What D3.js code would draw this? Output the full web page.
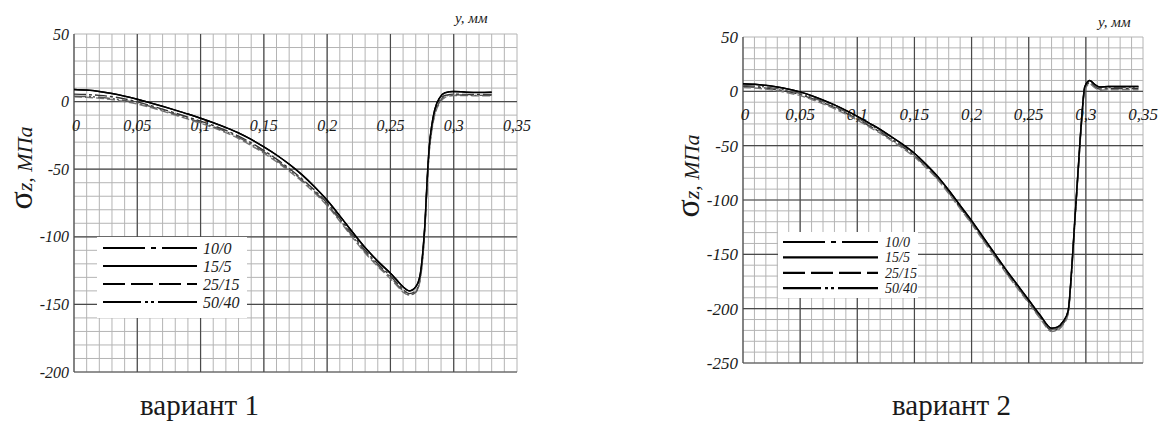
<!DOCTYPE html>
<html>
<head>
<meta charset="utf-8">
<script src="https://cdn.jsdelivr.net/npm/d3@7"></script>
<style>
  body { margin: 0; background: #fff; }
  svg { display: block; }
</style>
</head>
<body>
<svg id="chart" width="1158" height="422"></svg>
<script>
// series names (legend)
var seriesNames = ["10/0", "15/5", "25/15", "50/40"];

// вариант 1 : y, мм
var x1 = [0, 0.01, 0.02, 0.03, 0.04, 0.05, 0.06, 0.07, 0.08, 0.09, 0.1, 0.11, 0.12, 0.13, 0.14, 0.15,
  0.16, 0.17, 0.18, 0.19, 0.2, 0.21, 0.22, 0.23, 0.24, 0.25, 0.255, 0.26, 0.265, 0.27, 0.2735,
  0.2757, 0.2773, 0.279, 0.2807, 0.2826, 0.285, 0.289, 0.293, 0.3, 0.31, 0.32, 0.33];
var v1_10_0 = [5.5, 5.2, 4.6, 3.6, 2, -0.2, -2.8, -5.6, -8.5, -11.5, -14.5, -17.7, -21.3, -25.5, -30.5, -36.2,
  -42.5, -49.5, -57, -65.5, -75, -86.5, -98.5, -110, -120, -129, -134, -139, -142, -140, -130,
  -112, -91, -60, -35, -20, -8, 1, 4.5, 5.5, 5.3, 5.2, 5.3];
var v1_15_5 = [9, 8.5, 7.5, 6, 4, 1.7, -0.8, -3.5, -6.3, -9.2, -12.3, -15.6, -19.2, -23.2, -28, -33.5,
  -39.5, -46.3, -54, -63, -73, -84.5, -96.5, -108, -118, -127, -132, -137, -140, -137, -128,
  -110, -90, -58, -33, -18, -6, 3, 6.5, 7.5, 7, 6.8, 7];
var v1_25_15 = [3.5, 3.2, 2.5, 1.5, 0, -1.8, -4.2, -7, -10, -13, -16, -19.3, -23, -27.3, -32.5, -38.2,
  -44.5, -51.5, -59, -67.5, -77, -88.5, -100.5, -112, -122, -131, -136, -141, -143, -141, -132,
  -114, -93, -62, -37, -22, -10, -1, 3, 4.5, 4.5, 4.2, 4.3];
var v1_50_40 = [4, 3.8, 3.2, 2.2, 0.8, -1, -3.5, -6.3, -9.3, -12.3, -15.3, -18.6, -22.2, -26.4, -31.5, -37.2,
  -43.5, -50.5, -58, -66.5, -76, -87.5, -99.5, -111, -121, -130, -135, -140, -143, -141, -131,
  -113, -92, -61, -36, -21, -9, 0, 4, 5, 4.8, 4.6, 4.7];

// вариант 2 : y, мм
var x2 = [0, 0.01, 0.02, 0.03, 0.04, 0.05, 0.06, 0.07, 0.08, 0.09, 0.1, 0.11, 0.12, 0.13, 0.14, 0.15,
  0.16, 0.17, 0.18, 0.19, 0.2, 0.21, 0.22, 0.23, 0.24, 0.25, 0.26, 0.27, 0.275, 0.28, 0.2845,
  0.2875, 0.2903, 0.2932, 0.2962, 0.299, 0.3034, 0.307, 0.312, 0.32, 0.33, 0.34, 0.346];
var v2_10_0 = [4.5, 4, 3, 1.5, -0.5, -3, -6.5, -10.5, -15, -20, -25.5, -31.5, -37.5, -44.5, -51.5, -59.5,
  -69, -80, -93, -107, -121, -136, -151, -166, -180, -194, -208, -220, -219, -214, -204,
  -167, -121, -75, -29, 2, 8, 5, 2, 2.5, 2.5, 2.5, 2.5];
var v2_15_5 = [7, 6.5, 5.5, 4, 2, -0.5, -4, -8, -12.5, -17.5, -23, -29, -35, -42, -49, -57,
  -67, -78, -91, -105, -119, -134, -149, -164, -178, -192, -206, -218, -217, -212, -202,
  -165, -119, -73, -27, 4, 10, 7, 4, 4.5, 4.5, 4.5, 4.5];
var v2_25_15 = [3.5, 3, 2, 0.5, -1.5, -4, -7.5, -11.5, -16, -21, -26.5, -32.5, -38.5, -45.5, -52.5, -60.5,
  -70, -81, -94, -108, -122, -137, -152, -167, -181, -195, -209, -221, -220, -215, -205,
  -168, -122, -76, -30, 1, 7, 4, 1, 1.5, 1.5, 1.5, 1.5];
var v2_50_40 = [5.5, 5, 4, 2.5, 0.5, -2, -5.5, -9.5, -14, -19, -24.5, -30.5, -36.5, -43.5, -50.5, -58.5,
  -68, -79, -92, -106, -120, -135, -150, -165, -179, -193, -207, -219, -218, -213, -203,
  -166, -120, -74, -28, 3, 9, 6, 3, 3.5, 3.5, 3.5, 3.5];

var FONT = "Liberation Serif";
var svg = d3.select("#chart");

var locale = d3.formatLocale({decimal: ",", thousands: " ", grouping: [3], currency: ["", ""], minus: "-"});
var fmtX = locale.format(".2~f");
var fmtY = locale.format("d");

// line look per series (curve dash, legend dash, colour)
var looks = [
  {dash: "12,3,3,3", legDash: "42,6,5,6,40", color: "#333"},
  {dash: null, legDash: null, color: "#000"},
  {dash: "8,3", legDash: "22,6", color: "#777"},
  {dash: "12,3,2,2,2,3", legDash: "38,4,3,3,3,4,40", color: "#555"}
];

function txt(sel) {
  return sel.append("text").style("font-family", FONT).attr("fill", "#1a1a1a");
}

function drawPanel(p) {
  var x = d3.scaleLinear().domain([0, 0.35]).range([p.left, p.right]);
  var y = d3.scaleLinear().domain(p.yDomain).range([p.bottom, p.top]);
  var g = svg.append("g");

  // minor grid
  g.append("g").selectAll("line").data(x.ticks(35)).enter().append("line")
    .attr("x1", d => x(d)).attr("x2", d => x(d)).attr("y1", p.top).attr("y2", p.bottom)
    .attr("stroke", "#b4b4b4").attr("stroke-width", 1);
  g.append("g").selectAll("line").data(y.ticks(p.minorY)).enter().append("line")
    .attr("y1", d => y(d)).attr("y2", d => y(d)).attr("x1", p.left).attr("x2", p.right)
    .attr("stroke", "#b4b4b4").attr("stroke-width", 1);

  // major grid
  g.append("g").selectAll("line").data(x.ticks(7).filter(d => d < 0.349)).enter().append("line")
    .attr("x1", d => x(d)).attr("x2", d => x(d)).attr("y1", p.top).attr("y2", p.bottom)
    .attr("stroke", "#4a4a4a").attr("stroke-width", 1.2);
  g.append("g").selectAll("line").data(y.ticks(p.majorY).filter(d => d < p.yDomain[1])).enter().append("line")
    .attr("y1", d => y(d)).attr("y2", d => y(d)).attr("x1", p.left).attr("x2", p.right)
    .attr("stroke", "#4a4a4a").attr("stroke-width", 1.2);

  // y tick labels
  y.ticks(p.majorY).forEach(function (d) {
    txt(g).attr("x", p.left - 5).attr("y", y(d)).attr("dy", "0.35em")
      .attr("text-anchor", "end").style("font-style", "italic").style("font-size", p.tickFs)
      .text(fmtY(d));
  });

  // x tick labels, under the zero line
  x.ticks(7).forEach(function (d) {
    txt(g).attr("x", x(d) + (d === 0 ? 2 : 0)).attr("y", y(0) + 29)
      .attr("text-anchor", "middle").style("font-style", "italic").style("font-size", p.tickFs)
      .text(fmtX(d));
  });

  txt(g).attr("x", p.xTitleX).attr("y", p.xTitleY)
    .style("font-style", "italic").style("font-size", "15px").text("y, мм");

  // y title
  var t = txt(g)
    .attr("transform", "translate(" + p.yTitleX + "," + p.yTitleY + ") rotate(-90)")
    .attr("text-anchor", "middle");
  t.append("tspan").style("font-size", "34px").text("σ");
  t.append("tspan").style("font-size", "22px").style("font-style", "italic").text("z, МПа");

  // curves
  var line = d3.line().x(d => x(d[0])).y(d => y(d[1])).curve(d3.curveMonotoneX);
  p.series.forEach(function (vals, i) {
    var pts = p.xs.map((xv, j) => [xv, vals[j]]);
    g.append("path").datum(pts).attr("d", line)
      .attr("fill", "none").attr("stroke", looks[i].color).attr("stroke-width", 1.4)
      .attr("stroke-dasharray", looks[i].dash);
  });
  // solid on top
  g.append("path").datum(p.xs.map((xv, j) => [xv, p.series[1][j]])).attr("d", line)
    .attr("fill", "none").attr("stroke", "#000").attr("stroke-width", 1.5);

  // legend
  var lg = g.append("g");
  lg.append("rect").attr("x", p.leg.x).attr("y", p.leg.y).attr("width", p.leg.w).attr("height", p.leg.h)
    .attr("fill", "#fff");
  seriesNames.forEach(function (name, i) {
    var ly = p.leg.y0 + i * p.leg.dy;
    lg.append("line").attr("x1", p.leg.lx1).attr("x2", p.leg.lx2).attr("y1", ly).attr("y2", ly)
      .attr("stroke", "#000").attr("stroke-width", 2.2).attr("stroke-dasharray", looks[i].legDash);
    txt(lg).attr("x", p.leg.tx).attr("y", ly).attr("dy", "0.35em")
      .style("font-style", "italic").style("font-size", p.leg.fs).text(name);
  });

  txt(svg).attr("x", p.capX).attr("y", 415).style("font-size", "29px").text(p.caption);
}

drawPanel({
  left: 74, right: 517, top: 34, bottom: 372, yDomain: [-200, 50], minorY: 25, majorY: 5, tickFs: "16px",
  xs: x1, series: [v1_10_0, v1_15_5, v1_25_15, v1_50_40],
  xTitleX: 455, xTitleY: 23, yTitleX: 32, yTitleY: 168,
  leg: {x: 97, y: 237, w: 150, h: 81, y0: 248, dy: 18, lx1: 103, lx2: 197, tx: 203, fs: "16px"},
  capX: 140, caption: "вариант 1"
});

drawPanel({
  left: 743, right: 1143, top: 37, bottom: 363, yDomain: [-250, 50], minorY: 30, majorY: 6, tickFs: "17px",
  xs: x2, series: [v2_10_0, v2_15_5, v2_25_15, v2_50_40],
  xTitleX: 1098, xTitleY: 27, yTitleX: 699, yTitleY: 176,
  leg: {x: 778, y: 232, w: 140, h: 66, y0: 242, dy: 15.4, lx1: 783, lx2: 878, tx: 885, fs: "14px"},
  capX: 892, caption: "вариант 2"
});
</script>
</body>
</html>
